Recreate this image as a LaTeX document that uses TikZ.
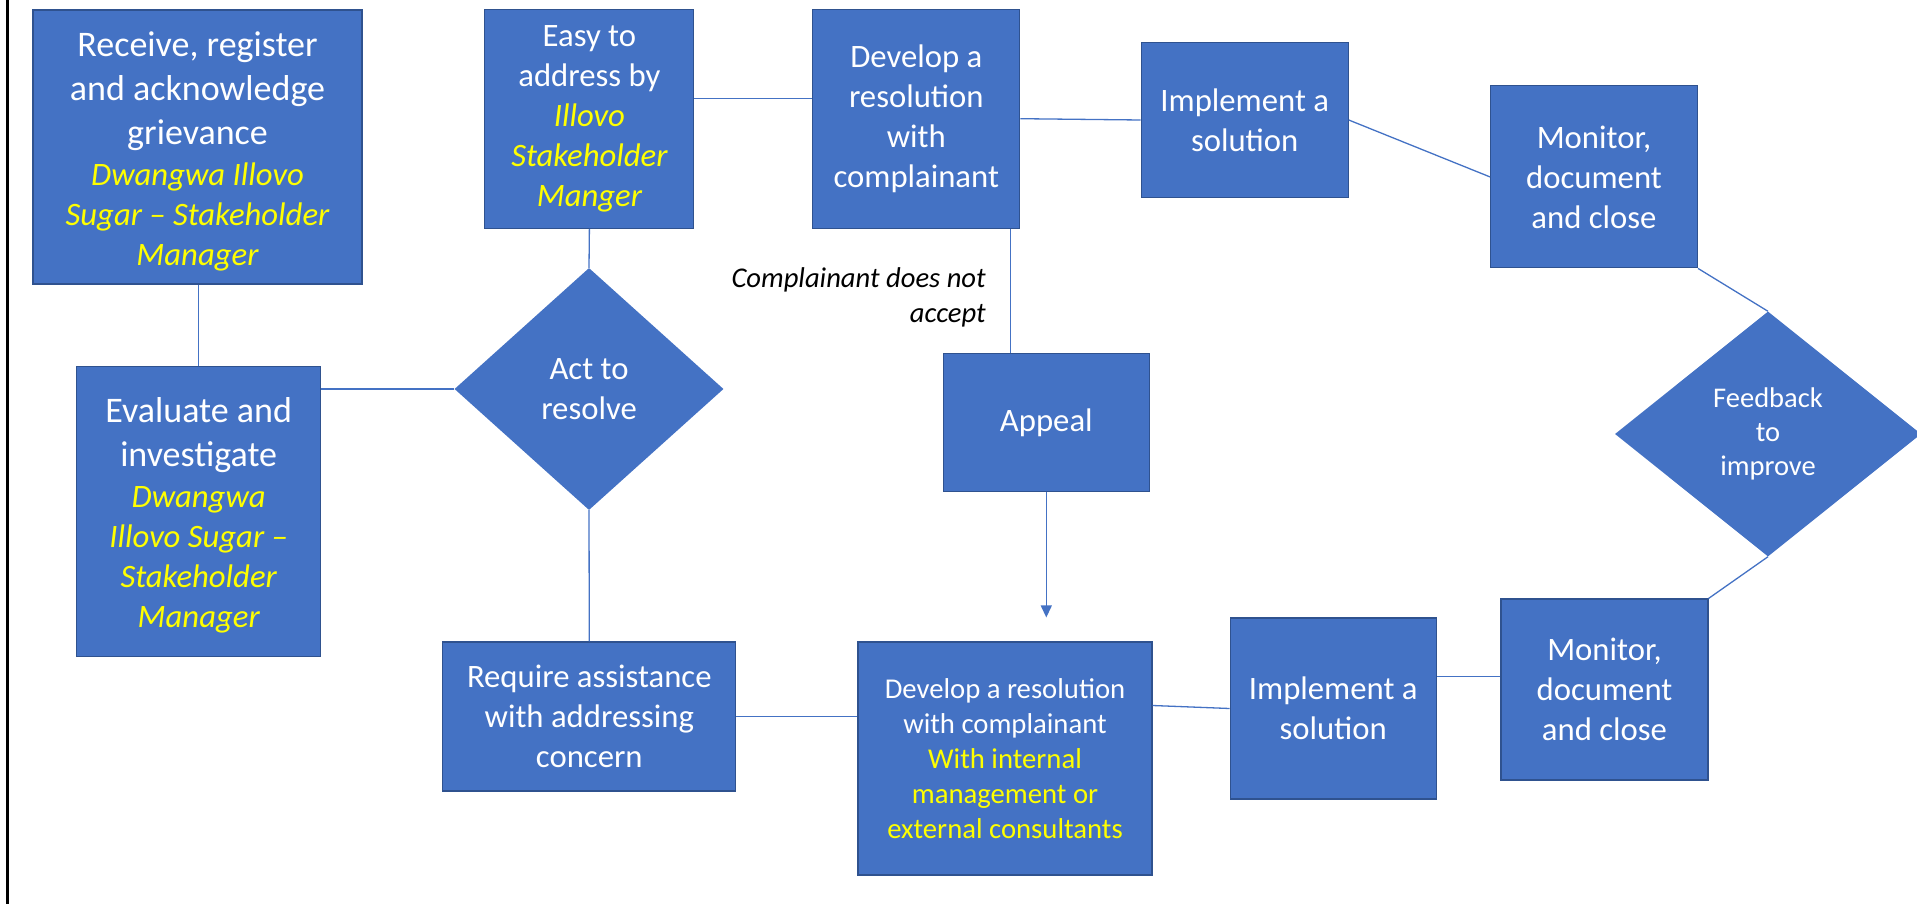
\documentclass[tikz,border=0pt]{standalone}
\usepackage{fontspec}
\setmainfont{Carlito}
\usetikzlibrary{shapes.geometric,arrows.meta}

\definecolor{boxblue}{HTML}{4472C4}
\definecolor{edgeblue}{HTML}{2F528F}
\definecolor{noteyellow}{HTML}{FFFF00}

% yellow italic line for the responsible party
\newcommand\ylw[1]{{\color{noteyellow}\itshape #1}}
% yellow upright line
\newcommand\ylwup[1]{{\color{noteyellow}#1}}
% larger white line used in the two left boxes
\newcommand\bigw[1]{{\fontsize{36}{40}\selectfont #1}}
% taller first line, lowers the text block a little
\newcommand\toplift{\rule{0pt}{33pt}}

\tikzset{
  stepbox/.style={rectangle, fill=boxblue, draw=edgeblue, line width=1.1pt,
    text=white, align=center, inner sep=0pt,
    font=\fontsize{32.7}{40}\selectfont},
  smallbox/.style={stepbox, font=\fontsize{28.7}{35}\selectfont},
  decision/.style={diamond, fill=boxblue, draw=none, text=white,
    align=center, inner sep=0pt, font=\fontsize{32.7}{40}\selectfont},
  link/.style={draw=boxblue, line width=1.3pt},
  note/.style={align=right, inner sep=0pt, text=black,
    font=\fontsize{28.6}{35}\selectfont\itshape},
}

\begin{document}
\begin{tikzpicture}[x=1pt,y=-1pt]
\useasboundingbox (0,0) rectangle (1917,904);

% left frame rule
\draw[black, line width=2.2pt] (7.5,0) -- (7.5,904);

% ---- upper path ----
\node[stepbox, minimum width=329pt, minimum height=274pt] (recv) at (197.5,147)
  {\toplift\bigw{Receive, register}\\[4pt]\bigw{and acknowledge}\\[4pt]\bigw{grievance}\\[1pt]
   \ylw{Dwangwa Illovo}\\\ylw{Sugar -- Stakeholder}\\\ylw{Manager}};

\node[stepbox, minimum width=244pt, minimum height=290pt] (eval) at (198.7,511.7)
  {\toplift\bigw{Evaluate and}\\[4pt]\bigw{investigate}\\[1pt]
   \ylw{Dwangwa}\\\ylw{Illovo Sugar --}\\\ylw{Stakeholder}\\\ylw{Manager}};

\node[stepbox, minimum width=209pt, minimum height=219pt] (easy) at (589.4,118.8)
  {Easy to\\address by\\\ylw{Illovo}\\\ylw{Stakeholder}\\\ylw{Manger}};

\node[decision, minimum width=269pt, minimum height=242pt] (act) at (589,389)
  {Act to\\resolve};

\node[stepbox, minimum width=207pt, minimum height=219pt] (dev1) at (916.3,118.7)
  {Develop a\\resolution\\with\\complainant};

\node[stepbox, minimum width=207pt, minimum height=155pt] (impl1) at (1244.7,120)
  {Implement a\\solution};

\node[stepbox, minimum width=207pt, minimum height=182pt] (mon1) at (1594,176.9)
  {Monitor,\\document\\and close};

\node[decision, minimum width=306pt, minimum height=245pt,
      font=\fontsize{28.5}{34}\selectfont] (fb) at (1768,434)
  {Feedback\\to\\improve};

\node[stepbox, minimum width=206pt, minimum height=138pt] (appeal) at (1046.3,422.5)
  {Appeal};

% ---- lower path ----
\node[stepbox, minimum width=293pt, minimum height=149pt] (req) at (589.3,716.5)
  {Require assistance\\with addressing\\concern};

\node[smallbox, minimum width=294pt, minimum height=233pt] (dev2) at (1005,758.5)
  {Develop a resolution\\with complainant\\\ylwup{With internal}\\\ylwup{management or}\\\ylwup{external consultants}};

\node[stepbox, minimum width=206pt, minimum height=181pt] (impl2) at (1333.2,708.5)
  {Implement a\\solution};

\node[stepbox, minimum width=207pt, minimum height=181pt] (mon2) at (1604.5,689.5)
  {Monitor,\\document\\and close};

% appeal condition
\node[note, anchor=east] (cond) at (986,297.5)
  {Complainant does not\\accept};

% ---- connectors ----
\draw[link] (eval.north) -- (eval.north |- recv.south);
\draw[link] (act.west) -- (act.west -| eval.east);
\draw[link] (easy.south) -- (act.north);
\draw[link] (act.south) -- (req.north);
\draw[link] ([yshift=20pt]easy.east) -- ([yshift=20pt]easy.east -| dev1.west);
\draw[link] (dev1.east) -- (impl1.west);
\draw[link] (impl1.east) -- (mon1.west);
\draw[link] (mon1.south east) -- (fb.north);
\draw[link] (fb.south) -- (mon2.north east);
\draw[link] ([xshift=-35.6pt]appeal.north) -- ([xshift=-35.6pt]appeal.north |- dev1.south);
\draw[link, -{Triangle[length=12pt,width=11pt]}, shorten >=24pt]
  (appeal.south) -- (appeal.south |- dev2.north);
\draw[link] (req.east) -- (req.east -| dev2.west);
\draw[link] (impl2.west) -- ([yshift=53pt]dev2.east);
\draw[link] ([yshift=13pt]mon2.west) -- ([yshift=13pt]mon2.west -| impl2.east);

\end{tikzpicture}
\end{document}
